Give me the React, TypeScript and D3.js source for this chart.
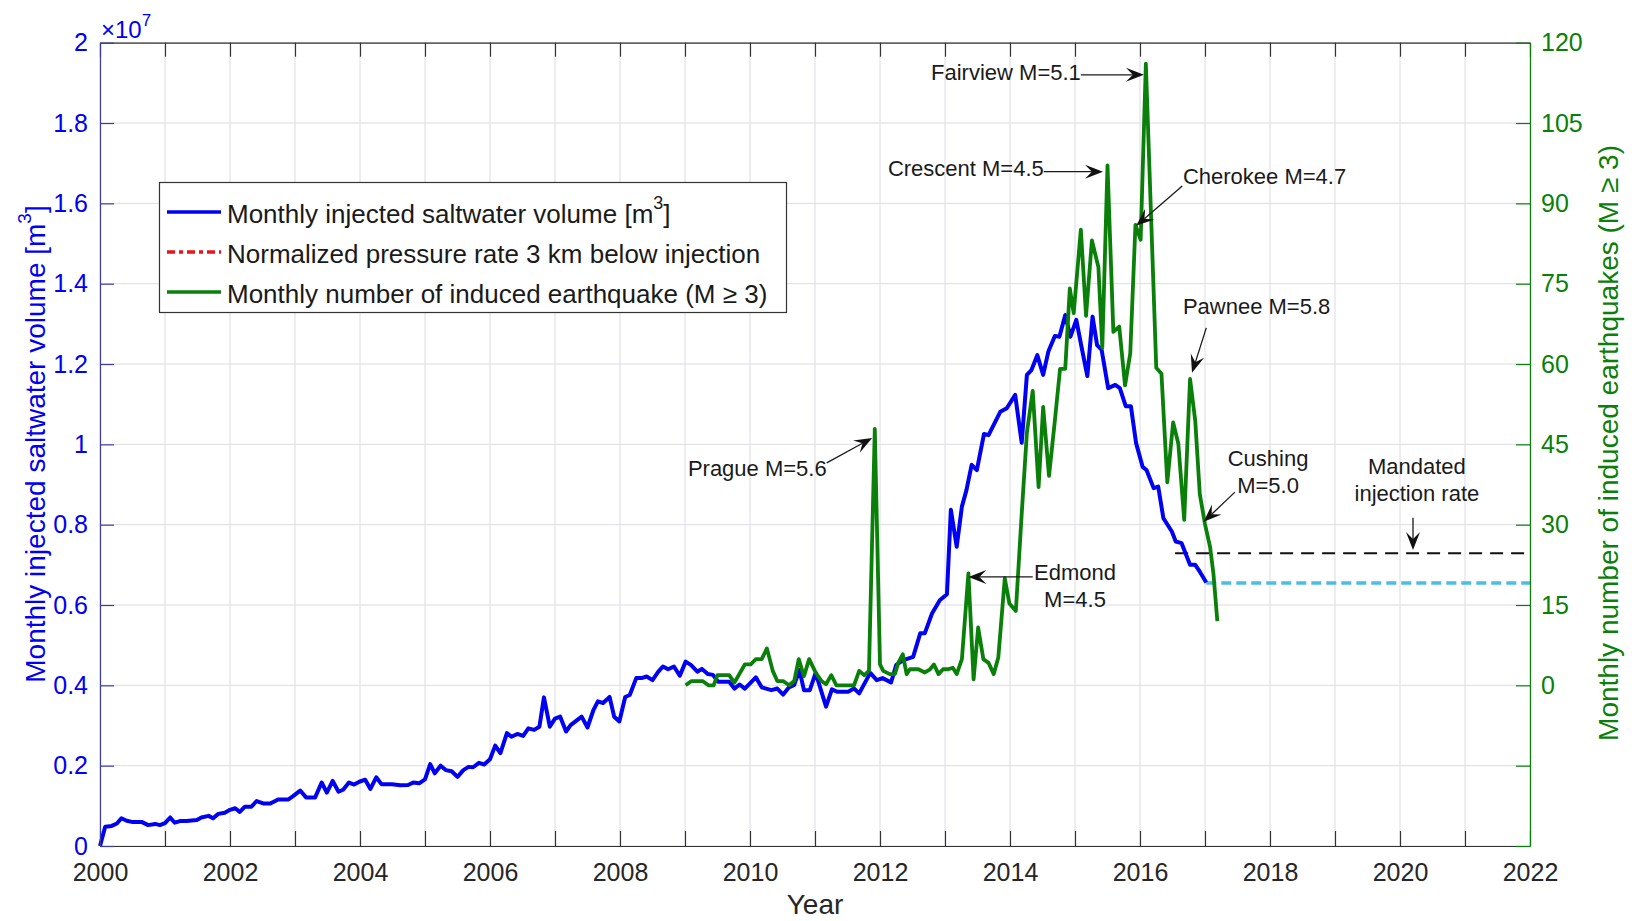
import { useEffect, useRef } from 'react';
import * as d3 from 'd3';

const W = 1635;
const H = 921;
const FONT = "'Liberation Sans', Arial, Helvetica, sans-serif";

// tick values
const yearTicks = d3.range(2000, 2023);
const volumeTicks = [0, 0.2, 0.4, 0.6, 0.8, 1, 1.2, 1.4, 1.6, 1.8, 2];
const quakeTicks = [-30, -15, 0, 15, 30, 45, 60, 75, 90, 105, 120];

// monthly injected saltwater volume, [year, volume x 1e7 m3]
const injectionVolume: [number, number][] = [
  [2000.00, 0.000], [2000.08, 0.048], [2000.18, 0.050], [2000.26, 0.056], [2000.33, 0.069], [2000.41, 0.063],
  [2000.49, 0.060], [2000.64, 0.060], [2000.74, 0.052], [2000.85, 0.055], [2000.92, 0.052], [2001.00, 0.057],
  [2001.08, 0.071], [2001.15, 0.058], [2001.23, 0.062], [2001.33, 0.062], [2001.49, 0.065], [2001.56, 0.071],
  [2001.67, 0.075], [2001.74, 0.069], [2001.82, 0.080], [2001.92, 0.083], [2002.00, 0.090], [2002.08, 0.094],
  [2002.15, 0.085], [2002.23, 0.098], [2002.33, 0.098], [2002.41, 0.112], [2002.51, 0.106], [2002.62, 0.106],
  [2002.74, 0.116], [2002.90, 0.116], [2002.97, 0.124], [2003.08, 0.138], [2003.17, 0.121], [2003.31, 0.121],
  [2003.41, 0.158], [2003.49, 0.133], [2003.58, 0.162], [2003.67, 0.135], [2003.74, 0.140], [2003.83, 0.158],
  [2003.91, 0.153], [2003.99, 0.160], [2004.08, 0.165], [2004.16, 0.142], [2004.25, 0.171], [2004.33, 0.154],
  [2004.49, 0.154], [2004.62, 0.151], [2004.74, 0.152], [2004.82, 0.158], [2004.91, 0.156], [2005.00, 0.166],
  [2005.08, 0.204], [2005.15, 0.181], [2005.24, 0.200], [2005.32, 0.189], [2005.41, 0.186], [2005.50, 0.172],
  [2005.59, 0.189], [2005.67, 0.197], [2005.74, 0.196], [2005.83, 0.207], [2005.91, 0.203], [2006.00, 0.216],
  [2006.08, 0.250], [2006.16, 0.231], [2006.26, 0.281], [2006.33, 0.272], [2006.42, 0.279], [2006.51, 0.274],
  [2006.59, 0.293], [2006.68, 0.289], [2006.76, 0.297], [2006.83, 0.370], [2006.92, 0.297], [2007.00, 0.317],
  [2007.08, 0.322], [2007.17, 0.285], [2007.24, 0.301], [2007.33, 0.312], [2007.41, 0.322], [2007.50, 0.295],
  [2007.59, 0.338], [2007.66, 0.360], [2007.74, 0.356], [2007.84, 0.371], [2007.91, 0.322], [2007.99, 0.310],
  [2008.08, 0.371], [2008.15, 0.376], [2008.25, 0.418], [2008.33, 0.418], [2008.41, 0.422], [2008.50, 0.413],
  [2008.59, 0.434], [2008.66, 0.447], [2008.74, 0.440], [2008.83, 0.447], [2008.92, 0.424], [2009.01, 0.459],
  [2009.09, 0.451], [2009.19, 0.434], [2009.26, 0.441], [2009.35, 0.428], [2009.43, 0.426], [2009.51, 0.409],
  [2009.68, 0.409], [2009.76, 0.392], [2009.84, 0.402], [2009.92, 0.392], [2010.09, 0.420], [2010.18, 0.395],
  [2010.33, 0.388], [2010.42, 0.392], [2010.51, 0.377], [2010.60, 0.395], [2010.68, 0.401], [2010.76, 0.438],
  [2010.83, 0.388], [2010.92, 0.388], [2011.01, 0.431], [2011.17, 0.347], [2011.26, 0.390], [2011.34, 0.384],
  [2011.51, 0.384], [2011.60, 0.392], [2011.68, 0.380], [2011.85, 0.431], [2011.95, 0.413], [2012.04, 0.418],
  [2012.17, 0.407], [2012.25, 0.451], [2012.36, 0.463], [2012.51, 0.471], [2012.62, 0.530], [2012.69, 0.530],
  [2012.80, 0.579], [2012.92, 0.612], [2013.03, 0.627], [2013.09, 0.837], [2013.18, 0.745], [2013.26, 0.845],
  [2013.33, 0.886], [2013.41, 0.949], [2013.49, 0.936], [2013.60, 1.026], [2013.67, 1.023], [2013.85, 1.081],
  [2013.95, 1.090], [2014.08, 1.123], [2014.18, 1.004], [2014.26, 1.173], [2014.33, 1.185], [2014.42, 1.222],
  [2014.51, 1.173], [2014.59, 1.231], [2014.69, 1.270], [2014.76, 1.268], [2014.85, 1.322], [2014.93, 1.268],
  [2015.02, 1.310], [2015.10, 1.243], [2015.19, 1.170], [2015.27, 1.318], [2015.34, 1.247], [2015.41, 1.235],
  [2015.51, 1.140], [2015.62, 1.148], [2015.69, 1.140], [2015.78, 1.095], [2015.86, 1.095], [2015.94, 1.003],
  [2016.04, 0.944], [2016.10, 0.936], [2016.21, 0.891], [2016.28, 0.895], [2016.36, 0.816], [2016.49, 0.783],
  [2016.55, 0.758], [2016.64, 0.754], [2016.77, 0.700], [2016.85, 0.700], [2016.92, 0.683], [2017.02, 0.656],
];

// monthly number of induced earthquakes M>=3, [year, count]
const earthquakeCount: [number, number][] = [
  [2009.01, 0], [2009.10, 0.8], [2009.27, 0.8], [2009.36, 0], [2009.44, 0], [2009.50, 1.9], [2009.68, 1.9],
  [2009.76, 0.5], [2009.92, 3.9], [2010.01, 3.9], [2010.09, 4.9], [2010.18, 4.9], [2010.26, 6.9], [2010.35, 2.7],
  [2010.42, 0.8], [2010.51, 0.8], [2010.60, 0], [2010.68, 0.8], [2010.75, 4.9], [2010.83, 1.7], [2010.91, 4.9],
  [2011.01, 2.4], [2011.10, 0.8], [2011.17, 0.2], [2011.25, 1.9], [2011.33, 0], [2011.60, 0], [2011.68, 2.7],
  [2011.76, 1.9], [2011.83, 2.7], [2011.92, 47.9], [2012.00, 3.9], [2012.05, 2.7], [2012.15, 2.1], [2012.23, 2.1],
  [2012.28, 4.2], [2012.35, 5.8], [2012.41, 2.1], [2012.46, 3.0], [2012.59, 3.0], [2012.69, 2.4], [2012.77, 3.0],
  [2012.83, 3.9], [2012.90, 2.1], [2012.97, 3.0], [2013.05, 3.0], [2013.12, 3.3], [2013.18, 2.1], [2013.26, 4.9],
  [2013.36, 20.9], [2013.44, 1.1], [2013.51, 10.8], [2013.59, 4.9], [2013.67, 4.2], [2013.75, 2.1], [2013.82, 5.2],
  [2013.92, 20.0], [2013.99, 15.3], [2014.09, 13.9], [2014.18, 32.0], [2014.26, 47.2], [2014.35, 55.0],
  [2014.44, 37.0], [2014.51, 52.0], [2014.60, 39.1], [2014.69, 49.4], [2014.77, 59.1], [2014.85, 59.1],
  [2014.92, 74.1], [2014.98, 69.5], [2015.09, 85.1], [2015.17, 69.0], [2015.26, 83.1], [2015.36, 78.1],
  [2015.42, 63.0], [2015.50, 97.1], [2015.59, 66.0], [2015.68, 67.0], [2015.77, 56.0], [2015.85, 62.0],
  [2015.93, 86.0], [2016.01, 83.2], [2016.09, 116.1], [2016.25, 59.3], [2016.33, 58.2], [2016.42, 37.9],
  [2016.51, 49.1], [2016.59, 45.1], [2016.68, 30.9], [2016.77, 57.2], [2016.85, 49.4], [2016.92, 35.7],
  [2017.00, 30.1], [2017.08, 25.7], [2017.13, 20.8], [2017.19, 12.0],
];

// horizontal reference lines, [year, volume x 1e7]
const mandatedRate: [number, number][] = [[2016.54, 0.729], [2022, 0.729]];
const projectedVolume: [number, number][] = [[2017.02, 0.655], [2022, 0.655]];

// annotations in data coordinates (year, volume x 1e7)
const annotations = [
  { lines: ['Fairview M=5.1'], at: [2015.09, 1.926], anchor: 'end', from: [2015.09, 1.92], to: [2016.06, 1.92] },
  { lines: ['Crescent M=4.5'], at: [2014.52, 1.686], anchor: 'end', from: [2014.52, 1.679], to: [2015.43, 1.679] },
  { lines: ['Cherokee M=4.7'], at: [2016.66, 1.668], anchor: 'start', from: [2016.65, 1.643], to: [2015.94, 1.544] },
  { lines: ['Pawnee M=5.8'], at: [2016.66, 1.342], anchor: 'start', from: [2017.02, 1.29], to: [2016.8, 1.178] },
  { lines: ['Cushing', 'M=5.0'], at: [2017.97, 0.964], anchor: 'middle', from: [2017.46, 0.881], to: [2016.98, 0.807] },
  { lines: ['Mandated', 'injection rate'], at: [2020.26, 0.946], anchor: 'middle', from: [2020.2, 0.817], to: [2020.2, 0.737] },
  { lines: ['Prague M=5.6'], at: [2011.18, 0.941], anchor: 'end', from: [2011.18, 0.954], to: [2011.88, 1.016] },
  { lines: ['Edmond', 'M=4.5'], at: [2015.0, 0.68], anchor: 'middle', from: [2014.35, 0.67], to: [2013.36, 0.67] },
];

const BLUE = '#0000f2';
const GREEN = '#0a800a';
const LIGHTBLUE = '#4dbbea';

const App = () => {
  const svgRef = useRef<SVGSVGElement>(null);

  useEffect(() => {
    const svg = d3.select(svgRef.current);
    svg.selectAll('*').remove();

    const left = 100, right = 1530, top = 42.7, bottom = 846;

    const x = d3.scaleLinear().domain([2000, 2022]).range([left, right]);
    const yL = d3.scaleLinear().domain([0, 2]).range([bottom, top]);
    const yR = d3.scaleLinear().domain([-30, 120]).range([bottom, top]);

    svg.append('rect').attr('width', W).attr('height', H).attr('fill', '#fff');

    // grid
    const grid = svg.append('g').attr('stroke', '#dcdce4').attr('stroke-width', 1);
    yearTicks.forEach(t => {
      grid.append('line').attr('x1', x(t)).attr('x2', x(t)).attr('y1', top).attr('y2', bottom);
    });
    volumeTicks.forEach(t => {
      grid.append('line').attr('x1', left).attr('x2', right).attr('y1', yL(t)).attr('y2', yL(t));
    });

    // reference lines
    const lineL = d3.line<[number, number]>().x(d => x(d[0])).y(d => yL(d[1]));
    svg.append('path').attr('d', lineL(mandatedRate)).attr('fill', 'none')
      .attr('stroke', '#111').attr('stroke-width', 2).attr('stroke-dasharray', '13,8');
    svg.append('path').attr('d', lineL(projectedVolume)).attr('fill', 'none')
      .attr('stroke', LIGHTBLUE).attr('stroke-width', 3.5).attr('stroke-dasharray', '10,5');

    // series
    svg.append('path').attr('d', lineL(injectionVolume)).attr('fill', 'none')
      .attr('stroke', BLUE).attr('stroke-width', 4).attr('stroke-linejoin', 'round');
    const lineR = d3.line<[number, number]>().x(d => x(d[0])).y(d => yR(d[1]));
    svg.append('path').attr('d', lineR(earthquakeCount)).attr('fill', 'none')
      .attr('stroke', GREEN).attr('stroke-width', 3.8).attr('stroke-linejoin', 'round');

    // axes
    const styleAxis = (g: any, color: string, textColor: string) => {
      g.selectAll('path').attr('stroke', color).attr('stroke-width', 1.2);
      g.selectAll('line').attr('stroke', color).attr('stroke-width', 1.2);
      g.selectAll('text').attr('fill', textColor).attr('font-size', 25).attr('font-family', FONT);
    };

    const xb = svg.append('g').attr('transform', `translate(0,${bottom})`)
      .call(d3.axisBottom(x).tickValues(yearTicks).tickSize(-15).tickSizeOuter(0).tickPadding(17)
        .tickFormat(d => (+d % 2 === 0 ? String(d) : '')));
    styleAxis(xb, '#333', '#262626');

    const xt = svg.append('g').attr('transform', `translate(0,${top})`)
      .call(d3.axisTop(x).tickValues(yearTicks).tickSize(-14).tickSizeOuter(0).tickFormat(() => ''));
    styleAxis(xt, '#333', '#262626');

    const yl = svg.append('g').attr('transform', `translate(${left},0)`)
      .call(d3.axisLeft(yL).tickValues(volumeTicks).tickSize(-14).tickSizeOuter(0).tickPadding(12)
        .tickFormat(d => String(+(+d).toFixed(1))));
    styleAxis(yl, '#3a3aa8', BLUE);

    const yr = svg.append('g').attr('transform', `translate(${right},0)`)
      .call(d3.axisRight(yR).tickValues(quakeTicks).tickSize(-14).tickSizeOuter(0).tickPadding(11)
        .tickFormat(d => (+d >= 0 ? String(d) : '')));
    styleAxis(yr, GREEN, GREEN);

    // exponent label
    const ex = svg.append('text').attr('x', left + 1).attr('y', 38).attr('fill', BLUE)
      .attr('font-family', FONT).attr('font-size', 24);
    ex.append('tspan').text('×10');
    ex.append('tspan').attr('dy', -12).attr('font-size', 17).text('7');

    // axis titles
    svg.append('text').attr('x', (left + right) / 2).attr('y', 904).attr('text-anchor', 'middle')
      .attr('dominant-baseline', 'central').attr('font-family', FONT).attr('font-size', 28)
      .attr('fill', '#262626').text('Year');

    const lt = svg.append('text').attr('transform', 'translate(35,444) rotate(-90)')
      .attr('text-anchor', 'middle').attr('font-family', FONT).attr('font-size', 28).attr('fill', BLUE)
      .attr('dominant-baseline', 'central');
    lt.append('tspan').text('Monthly injected saltwater volume [m');
    lt.append('tspan').attr('dy', -11).attr('font-size', 19).text('3');
    lt.append('tspan').attr('dy', 11).text(']');

    svg.append('text').attr('transform', 'translate(1608,443) rotate(-90)')
      .attr('text-anchor', 'middle').attr('dominant-baseline', 'central').attr('font-family', FONT)
      .attr('font-size', 28).attr('fill', GREEN).text('Monthly number of induced earthquakes (M ≥ 3)');

    // legend
    const lg = svg.append('g');
    lg.append('rect').attr('x', 159.5).attr('y', 182.5).attr('width', 627).attr('height', 130)
      .attr('fill', '#fff').attr('stroke', '#333').attr('stroke-width', 1.2);
    const items = [
      { color: BLUE, dash: null, label: 'Monthly injected saltwater volume [m', sup: '3' },
      { color: '#e8141a', dash: '8,4,4,4', label: 'Normalized pressure rate 3 km below injection', sup: null },
      { color: GREEN, dash: null, label: 'Monthly number of induced earthquake (M ≥ 3)', sup: null },
    ];
    items.forEach((it, i) => {
      const cy = 212 + i * 40;
      lg.append('line').attr('x1', 167).attr('x2', 221).attr('y1', cy).attr('y2', cy)
        .attr('stroke', it.color).attr('stroke-width', 3.5).attr('stroke-dasharray', it.dash);
      const t = lg.append('text').attr('x', 227).attr('y', cy + 2).attr('dominant-baseline', 'central')
        .attr('font-family', FONT).attr('font-size', 26).attr('fill', '#1a1a1a');
      t.append('tspan').text(it.label);
      if (it.sup) {
        t.append('tspan').attr('dy', -11).attr('font-size', 18).text(it.sup);
        t.append('tspan').attr('dy', 11).text(']');
      }
    });

    // annotations
    const an = svg.append('g');
    annotations.forEach(a => {
      const t = an.append('text').attr('text-anchor', a.anchor).attr('font-family', FONT)
        .attr('font-size', 22).attr('fill', '#1a1a1a');
      a.lines.forEach((ln, i) => {
        t.append('tspan').attr('x', x(a.at[0])).attr('y', yL(a.at[1]) + i * 27)
          .attr('dominant-baseline', 'central').text(ln);
      });
      const x1 = x(a.from[0]), y1 = yL(a.from[1]);
      const x2 = x(a.to[0]), y2 = yL(a.to[1]);
      const len = Math.hypot(x2 - x1, y2 - y1);
      const ux = (x2 - x1) / len, uy = (y2 - y1) / len;
      const nx = -uy, ny = ux;
      const hl = 18, hw = 7, notch = 11;
      an.append('line').attr('x1', x1).attr('y1', y1)
        .attr('x2', x2 - ux * notch).attr('y2', y2 - uy * notch)
        .attr('stroke', '#1a1a1a').attr('stroke-width', 1.3);
      const pts = [
        [x2, y2],
        [x2 - ux * hl + nx * hw, y2 - uy * hl + ny * hw],
        [x2 - ux * notch, y2 - uy * notch],
        [x2 - ux * hl - nx * hw, y2 - uy * hl - ny * hw],
      ];
      an.append('polygon').attr('points', pts.map(p => p.join(',')).join(' ')).attr('fill', '#111');
    });
  }, []);

  return (
    <div style={{ position: 'absolute', left: 0, top: 0 }}>
      <svg ref={svgRef} width={W} height={H} viewBox={`0 0 ${W} ${H}`} style={{ display: 'block' }} />
    </div>
  );
};

export default App;
